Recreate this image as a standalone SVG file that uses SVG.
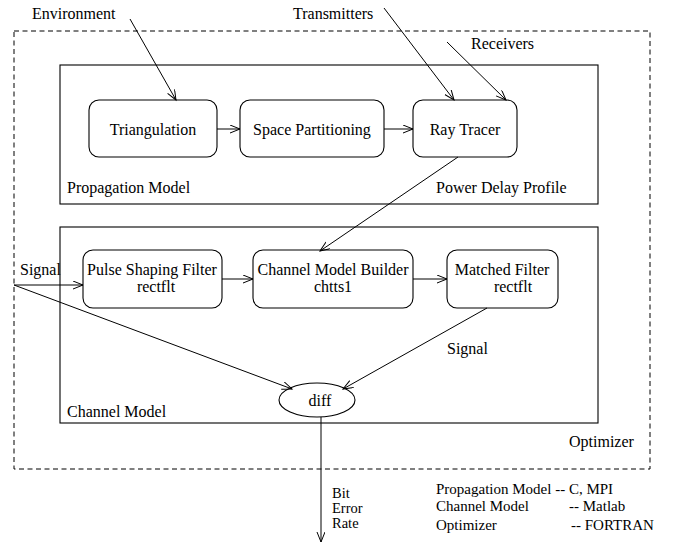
<svg xmlns="http://www.w3.org/2000/svg" width="678" height="552" viewBox="0 0 678 552" font-family="'Liberation Serif', 'DejaVu Serif', serif">
<style>
text{font-family:'Liberation Serif','DejaVu Serif',serif;font-size:16px;fill:#000}
.sm{font-size:14.5px}
.lg{font-size:15px}
.box{fill:none;stroke:#000;stroke-width:1.1}
.node{fill:#fff;stroke:#000;stroke-width:1.1}
.c{fill:none;stroke:#000;stroke-width:1;marker-end:url(#ah)}
</style>
<defs>
<marker id="ah" markerWidth="12" markerHeight="10" refX="10" refY="4" orient="auto" markerUnits="userSpaceOnUse">
<path d="M0,0 L10,4 L0,8" fill="none" stroke="#000" stroke-width="1"/>
</marker>
</defs>
<rect id="optimizer" x="14" y="31" width="636" height="438" fill="none" stroke="#000" stroke-width="1" stroke-dasharray="5,3.5"/>
<g id="propagation-model">
<rect class="box" x="60" y="65" width="538" height="139"/>
<text x="67" y="193">Propagation Model</text>
<text x="436" y="193">Power Delay Profile</text>
</g>
<g id="channel-model">
<rect class="box" x="60" y="227" width="538" height="196"/>
<text x="67" y="417">Channel Model</text>
</g>
<text x="569" y="447">Optimizer</text>
<g id="triangulation"><rect class="node" x="89" y="100" width="128" height="57" rx="10"/><text x="153" y="135" text-anchor="middle">Triangulation</text></g>
<g id="space-partitioning"><rect class="node" x="240" y="100" width="144" height="57" rx="10"/><text x="312" y="135" text-anchor="middle">Space Partitioning</text></g>
<g id="ray-tracer"><rect class="node" x="413" y="100" width="104" height="57" rx="10"/><text x="465" y="135" text-anchor="middle">Ray Tracer</text></g>
<g id="pulse-shaping"><rect class="node" x="83" y="250" width="139" height="58" rx="10"/><text x="152" y="275" text-anchor="middle">Pulse Shaping Filter</text><text x="156" y="292" text-anchor="middle">rectflt</text></g>
<g id="channel-builder"><rect class="node" x="253" y="250" width="160" height="58" rx="10"/><text x="333" y="275" text-anchor="middle">Channel Model Builder</text><text x="333" y="292" text-anchor="middle">chtts1</text></g>
<g id="matched-filter"><rect class="node" x="447" y="250" width="111" height="58" rx="10"/><text x="502" y="275" text-anchor="middle">Matched Filter</text><text x="513" y="292" text-anchor="middle">rectflt</text></g>
<g id="diff"><ellipse class="node" cx="317" cy="400" rx="38" ry="17"/><text x="320" y="406" text-anchor="middle">diff</text></g>
<g id="inputs">
<text x="32" y="19">Environment</text>
<text x="293" y="19">Transmitters</text>
<text x="471" y="49">Receivers</text>
<text x="20" y="275">Signal</text>
<text x="447" y="354">Signal</text>
<text class="sm" x="332" y="498">Bit</text>
<text class="sm" x="332" y="513">Error</text>
<text class="sm" x="332" y="528">Rate</text>
</g>
<g id="legend">
<text class="lg" x="436" y="494">Propagation Model -- C, MPI</text>
<text class="lg" x="436" y="511">Channel Model</text>
<text class="lg" x="569" y="511">-- Matlab</text>
<text class="lg" x="436" y="530">Optimizer</text>
<text class="lg" x="571" y="530">--  FORTRAN</text>
</g>
<g id="connectors">
<line class="c" x1="130" y1="19" x2="176" y2="100"/>
<line class="c" x1="384" y1="8" x2="454" y2="100"/>
<line class="c" x1="447" y1="42" x2="506" y2="100"/>
<line class="c" x1="217" y1="129" x2="240" y2="129"/>
<line class="c" x1="384" y1="129" x2="413" y2="129"/>
<line class="c" x1="458" y1="157" x2="320" y2="251"/>
<line class="c" x1="14" y1="285" x2="83" y2="285"/>
<line class="c" x1="14" y1="285" x2="292" y2="389"/>
<line class="c" x1="222" y1="279" x2="253" y2="279"/>
<line class="c" x1="413" y1="279" x2="447" y2="279"/>
<line class="c" x1="487" y1="308" x2="343" y2="389"/>
<line class="c" x1="321" y1="417" x2="321" y2="542"/>
</g>
</svg>
